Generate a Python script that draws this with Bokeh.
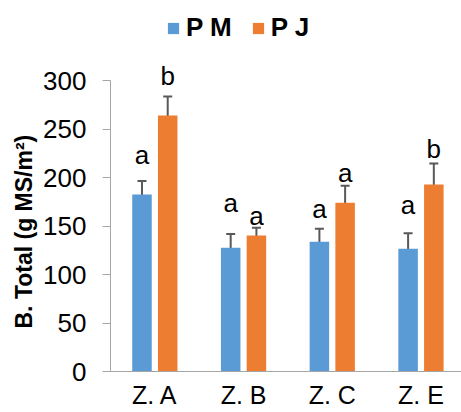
from bokeh.plotting import figure
from bokeh.models import (ColumnDataSource, Range1d, FixedTicker, Legend, LegendItem,
                          Whisker, TeeHead, Title)
from bokeh.core.properties import value
from bokeh.embed import file_html
from bokeh.resources import INLINE

categories = ["Z. A", "Z. B", "Z. C", "Z. E"]
pm_values = [182.5, 127.5, 133.7, 126.5]
pm_errors = [14.0, 14.3, 13.5, 16.0]
pj_values = [264.0, 140.2, 173.9, 192.8]
pj_errors = [19.6, 8.0, 17.7, 21.7]
pm_letters = ["a", "a", "a", "a"]
pj_letters = ["b", "a", "a", "b"]
pm_letter_y = [222.7, 174.2, 168.0, 172.0]
pj_letter_y = [305.0, 160.8, 205.0, 229.0]
y_ticks = [0, 50, 100, 150, 200, 250, 300]
y_label = "B. Total (g MS/m²)"

BLUE = "#5B9BD5"
ORANGE = "#ED7D31"
GRAY = "#a6a6a6"
ERR = "#595959"
FONT = "Liberation Sans"
FS = "26px"

idx = list(range(len(categories)))
off = 0.145
bw = 0.22

pm_src = ColumnDataSource(dict(
    x=[i - off for i in idx], top=pm_values,
    upper=[v + e for v, e in zip(pm_values, pm_errors)],
    lower=[v - e for v, e in zip(pm_values, pm_errors)],
    letter=pm_letters, ly=pm_letter_y))
pj_src = ColumnDataSource(dict(
    x=[i + off for i in idx], top=pj_values,
    upper=[v + e for v, e in zip(pj_values, pj_errors)],
    lower=[v - e for v, e in zip(pj_values, pj_errors)],
    letter=pj_letters, ly=pj_letter_y))

p = figure(width=461, height=412, output_backend="svg", toolbar_location=None,
           x_range=Range1d(-0.5, 3.457), y_range=Range1d(0, 382.5),
           min_border_left=110, min_border_right=0, min_border_top=0,
           min_border_bottom=41)
p.outline_line_color = None
p.grid.visible = False
p.background_fill_color = "white"
p.border_fill_color = "white"

r_pm = p.vbar(x="x", top="top", width=bw, bottom=0, source=pm_src,
              fill_color=BLUE, line_color=None)
r_pj = p.vbar(x="x", top="top", width=bw, bottom=0, source=pj_src,
              fill_color=ORANGE, line_color=None)

for src in (pm_src, pj_src):
    w = Whisker(base="x", upper="upper", lower="lower", source=src,
                line_color=ERR, line_width=2,
                upper_head=TeeHead(size=9, line_color=ERR, line_width=2),
                lower_head=TeeHead(size=9, line_color=ERR, line_width=2))
    p.add_layout(w)
    p.text(x="x", y="ly", text="letter", source=src, text_align="center",
           text_baseline="alphabetic", text_font=value(FONT),
           text_font_size=FS, text_color="black")

# y axis
ya = p.yaxis[0]
ya.ticker = FixedTicker(ticks=y_ticks)
ya.bounds = (0, 300)
ya.axis_line_color = GRAY
ya.major_tick_line_color = GRAY
ya.major_tick_out = 8
ya.major_tick_in = 0
ya.minor_tick_line_color = None
ya.major_label_text_font = FONT
ya.major_label_text_font_size = FS
ya.major_label_text_color = "black"
ya.major_label_standoff = 16

# y axis title, placed along the 0-300 span as in the original
p.add_layout(Title(text=y_label, align="left", offset=43, standoff=8,
                   text_font=FONT, text_font_size="23px",
                   text_font_style="bold", text_color="black"), "left")

# x axis
xa = p.xaxis[0]
xa.ticker = FixedTicker(ticks=idx)
xa.major_label_overrides = {i: c for i, c in zip(idx, categories)}
xa.axis_line_color = GRAY
xa.major_tick_line_color = None
xa.major_tick_out = 0
xa.major_tick_in = 0
xa.minor_tick_line_color = None
xa.minor_tick_out = 0
xa.major_label_text_font = FONT
xa.major_label_text_font_size = "25px"
xa.major_label_text_color = "black"
xa.major_label_standoff = 9

legend = Legend(items=[LegendItem(label="P M", renderers=[r_pm]),
                       LegendItem(label="P J", renderers=[r_pj])],
                orientation="horizontal", location=(56, 328),
                glyph_width=14, glyph_height=14, label_standoff=6,
                spacing=19, padding=0, margin=0,
                label_text_font=FONT, label_text_font_size=FS,
                label_text_font_style="bold", label_text_color="black",
                border_line_color=None, background_fill_alpha=0)
p.add_layout(legend)

open("out.html", "w").write(file_html(p, INLINE))
